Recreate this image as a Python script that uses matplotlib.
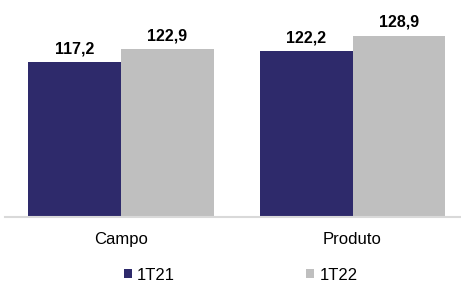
import matplotlib.pyplot as plt
import numpy as np

# Dados
categorias = ["Campo", "Produto"]
series = ["1T21", "1T22"]
valores_1t21 = [117.2, 122.2]
valores_1t22 = [122.9, 128.9]

cores = ["#2E2A6B", "#BFBFBF"]

plt.rcParams["font.family"] = ["Liberation Sans", "DejaVu Sans"]

fig = plt.figure(figsize=(4.61, 2.82), dpi=100)
# eixo posicionado em pixels (largura de categoria ~231.5 px)
ax = fig.add_axes([5.25 / 461, (282 - 217) / 282, 463 / 461, (217 - 11) / 282])

x = np.arange(len(categorias))
largura = 0.4
b1 = ax.bar(x - largura / 2, valores_1t21, largura, color=cores[0], label=series[0])
b2 = ax.bar(x + largura / 2, valores_1t22, largura, color=cores[1], label=series[1])

for barras in (b1, b2):
    for b in barras:
        v = b.get_height()
        ax.annotate(f"{v:.1f}".replace(".", ","), (b.get_x() + b.get_width() / 2, v),
                    xytext=(0, 6.5), textcoords="offset points",
                    ha="center", va="baseline", fontsize=11.5, fontweight="bold")

ax.set_xlim(-0.5, 1.5)
ax.set_ylim(48.5, 140)
ax.set_xticks(x)
ax.set_xticklabels(categorias, fontsize=12)
ax.tick_params(axis="x", length=0, pad=11)
ax.set_yticks([])
for lado in ["top", "right", "left"]:
    ax.spines[lado].set_visible(False)
ax.spines["bottom"].set_color("#D9D9D9")
ax.spines["bottom"].set_linewidth(1.5)

fig.legend(handles=[b1, b2], labels=series, loc="center", bbox_to_anchor=(0.522, 7 / 282),
           ncol=2, frameon=False, fontsize=12, handlelength=0.48, handleheight=0.48,
           handletextpad=0.3, columnspacing=7.9, borderpad=0)

fig.savefig("out.png", dpi=100)
